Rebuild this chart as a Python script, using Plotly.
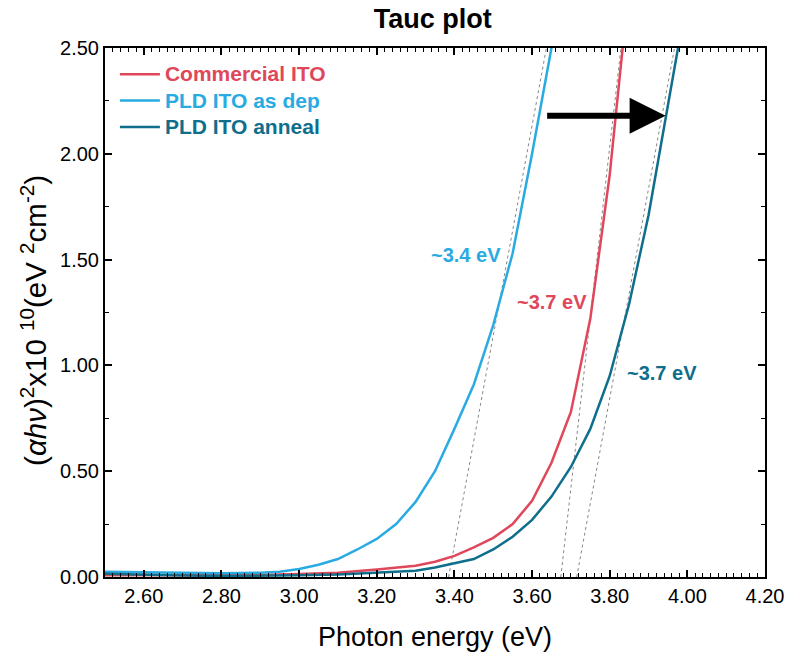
import plotly.graph_objects as go

# ---- data ----
energy_blue = [2.50, 2.60, 2.70, 2.80, 2.90, 2.95, 3.00, 3.05, 3.10, 3.15, 3.20, 3.25,
               3.30, 3.35, 3.40, 3.45, 3.50, 3.55, 3.60, 3.65, 3.70]
pld_asdep = [0.025, 0.022, 0.020, 0.018, 0.020, 0.025, 0.038, 0.058, 0.085, 0.13, 0.18, 0.25,
             0.355, 0.50, 0.70, 0.91, 1.19, 1.53, 2.00, 2.52, 3.00]

energy_red = [2.50, 2.60, 2.70, 2.80, 2.90, 3.00, 3.10, 3.20, 3.25, 3.30, 3.35, 3.40, 3.45,
              3.50, 3.55, 3.60, 3.65, 3.70, 3.75, 3.80, 3.85]
commercial = [0.008, 0.008, 0.008, 0.008, 0.010, 0.014, 0.020, 0.035, 0.043, 0.053, 0.072, 0.10,
              0.14, 0.185, 0.25, 0.36, 0.54, 0.78, 1.22, 1.90, 2.80]

energy_teal = [2.50, 2.60, 2.70, 2.80, 2.90, 3.00, 3.10, 3.20, 3.30, 3.35, 3.40, 3.45, 3.50,
               3.55, 3.60, 3.65, 3.70, 3.75, 3.80, 3.85, 3.90, 3.95, 4.00]
pld_anneal = [0.015, 0.010, 0.007, 0.005, 0.006, 0.008, 0.012, 0.020, 0.030, 0.045, 0.065, 0.085,
              0.13, 0.19, 0.27, 0.38, 0.52, 0.70, 0.95, 1.29, 1.71, 2.23, 2.75]

# Tauc extrapolation lines (x at y=0, x at y=2.5)
tauc_blue_x = [3.385, 3.637]
tauc_red_x = [3.674, 3.829]
tauc_teal_x = [3.715, 3.967]
tauc_y = [0.0, 2.5]

band_gaps = ["~3.4 eV", "~3.7 eV", "~3.7 eV"]
label_x = [3.43, 3.652, 3.934]
label_y = [1.52, 1.30, 0.964]

arrow_x = [3.635, 3.944]
arrow_y = 2.18

RED = "#E0475B"
BLUE = "#29ABE2"
TEAL = "#0E6E8C"
FONT = "Liberation Sans, Arial, sans-serif"


def legend_label(text, color):
    return "<b><span style='color:%s;font-size:21px'>%s</span></b>" % (color, text)


fig = go.Figure()

for tx in (tauc_blue_x, tauc_red_x, tauc_teal_x):
    fig.add_trace(go.Scatter(x=tx, y=tauc_y, mode="lines", showlegend=False,
                             line=dict(color="#888888", width=1, dash="dot"),
                             hoverinfo="skip"))

fig.add_trace(go.Scatter(x=energy_red, y=commercial, mode="lines",
                         name=legend_label("Commercial ITO", RED),
                         line=dict(color=RED, width=2.5)))
fig.add_trace(go.Scatter(x=energy_blue, y=pld_asdep, mode="lines",
                         name=legend_label("PLD ITO as dep", BLUE),
                         line=dict(color=BLUE, width=2.5)))
fig.add_trace(go.Scatter(x=energy_teal, y=pld_anneal, mode="lines",
                         name=legend_label("PLD ITO anneal", TEAL),
                         line=dict(color=TEAL, width=2.5)))

for txt, lx, ly, c in zip(band_gaps, label_x, label_y, [BLUE, RED, TEAL]):
    fig.add_annotation(x=lx, y=ly, text="<b>%s</b>" % txt, showarrow=False,
                       font=dict(family=FONT, size=20, color=c))

fig.add_annotation(x=arrow_x[1], y=arrow_y, ax=arrow_x[0], ay=arrow_y,
                   xref="x", yref="y", axref="x", ayref="y", text="",
                   showarrow=True, arrowhead=2, arrowsize=1.2, arrowwidth=6,
                   arrowcolor="black")

# y-axis title (placed as a rotated annotation so it can sit like the reference)
fig.add_annotation(xref="paper", yref="paper", x=-0.1076, y=0.486, xanchor="center", yanchor="middle",
                   textangle=-90, showarrow=False,
                   text="(<i>αhν</i>)<sup>2</sup>x10 <sup>10</sup>(eV <sup>2</sup>cm<sup>-2</sup>)",
                   font=dict(family=FONT, size=29.5, color="black"))

axis_common = dict(showline=True, linecolor="black", linewidth=2, mirror="allticks",
                   ticks="inside", ticklen=7, tickwidth=1.5, tickcolor="black",
                   showgrid=False, zeroline=False, automargin=False,
                   tickfont=dict(family=FONT, size=20, color="black"))

fig.update_xaxes(range=[2.5, 4.2], tick0=2.6, dtick=0.2, tickformat=".2f",
                 minor=dict(dtick=0.02, ticklen=4, tickcolor="black", ticks="inside", tickwidth=1),
                 title=dict(text="Photon energy (eV)", font=dict(family=FONT, size=27, color="black"),
                            standoff=21),
                 **axis_common)
fig.update_yaxes(range=[0, 2.5], tick0=0, dtick=0.5, tickformat=".2f",
                 minor=dict(dtick=0.25, ticklen=4, tickcolor="black", ticks="inside", tickwidth=1),
                 **axis_common)

fig.update_layout(
    width=787, height=661,
    margin=dict(l=105, r=22, t=48, b=84),
    paper_bgcolor="white", plot_bgcolor="white",
    title=dict(text="<b>Tauc plot</b>", x=0.55, xanchor="center", y=0.972, yanchor="middle",
               font=dict(family=FONT, size=27, color="black")),
    legend=dict(x=0.015, y=0.985, xanchor="left", yanchor="top", bgcolor="rgba(0,0,0,0)",
                font=dict(family=FONT, size=18), tracegroupgap=0, itemwidth=40),
    font=dict(family=FONT),
)

fig.write_html("out.html")
